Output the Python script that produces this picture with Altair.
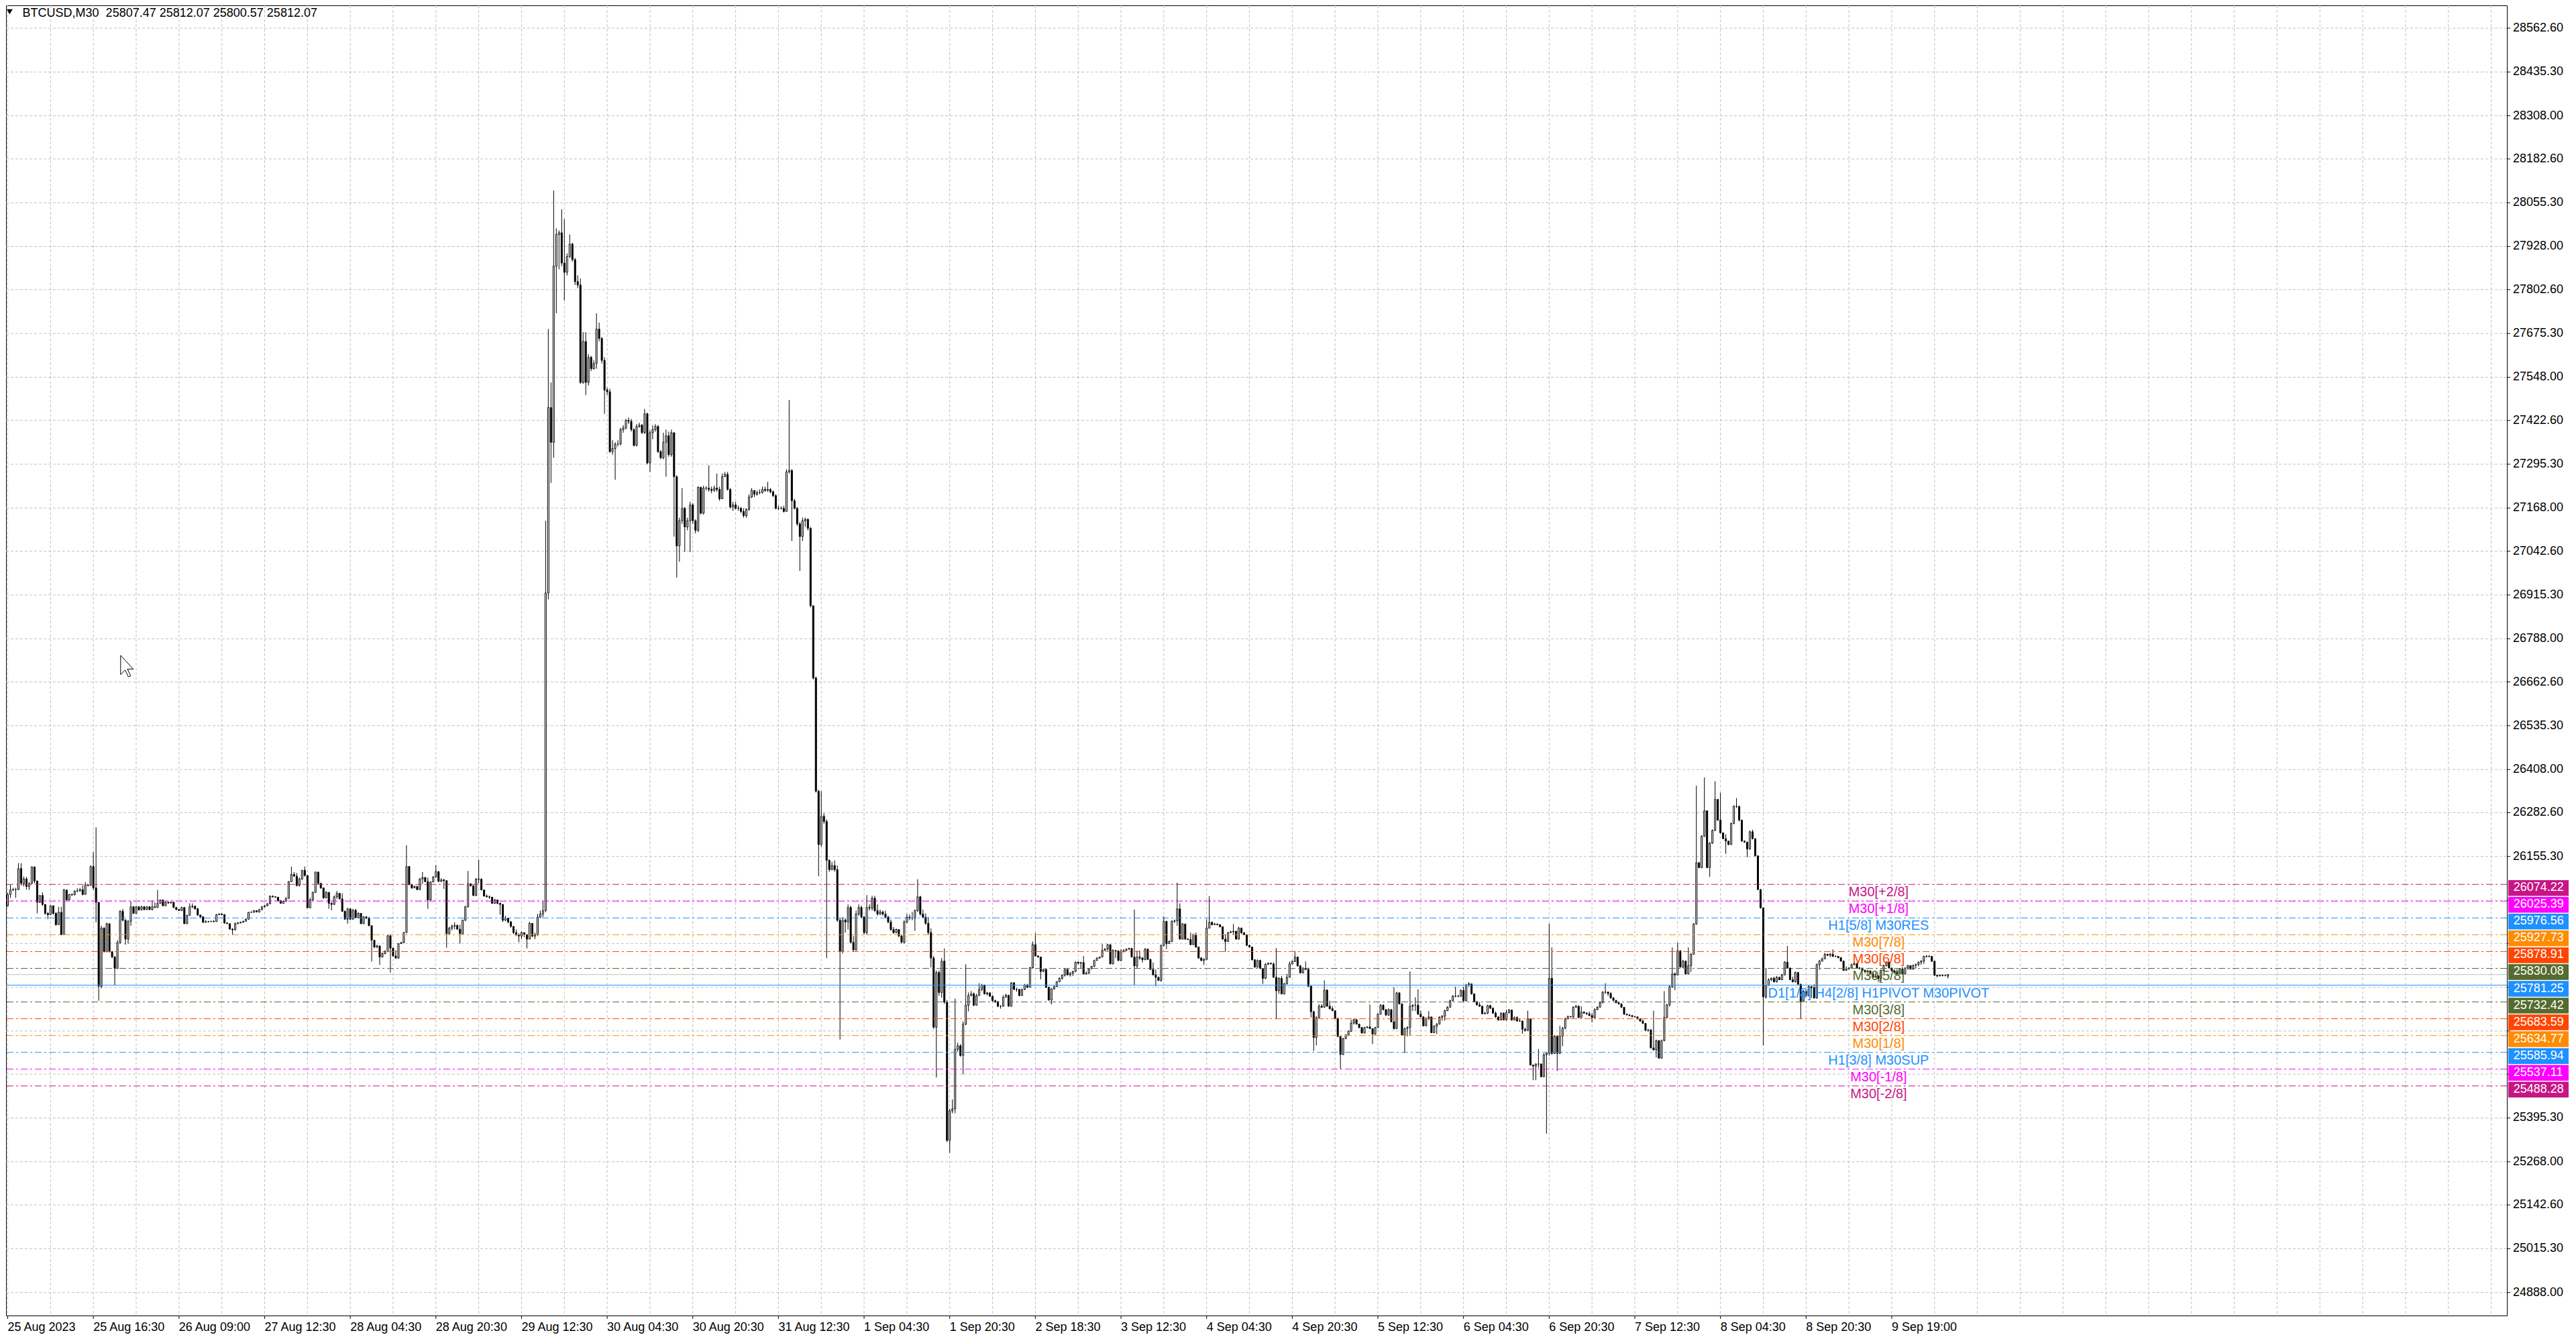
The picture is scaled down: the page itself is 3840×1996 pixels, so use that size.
import altair as alt
import pandas as pd

# ---------------- data ----------------
HEADER = "BTCUSD,M30\u00a0\u00a025807.47 25812.07 25800.57 25812.07"
FIRST_OPEN = 26012
LAST_OPEN = 25807.47

CLOSE_A = [26045,26058,26059,26059,26120,26077,26090,26068,26077,26125,
 26084,26022,26042,26016,25990,25986,26012,25990,25957,25993,
 25928,26058,26029,26045,26044,26055,26055,26059,26045,26072,
 26071,26126,26064,26022,25778,25947,25879,25960,25879,25863,
 25830,25905,25996,25970,25915,25967,26009,25990,26009,26000,
 26009,26001,26009,26001,26009,26007,26019,26029,26012,26022,
 26020,26022,26007,26001,25998,26007,25960,25984,26009,26011,
 26003,25985,25980,25964,25966,25966,25967,25966,25986,25988,
 25986,25962,25960,25944,25942,25960,25962,25964,25967,25973,
 25993,25993,25998,25994,26001,26009,26012,26018,26040,26038,
 26037,26027,26019,26025,26034,26082,26103,26098,26071,26090,
 26115,26100,26006,26029,26051,26110,26077,26064,26035,26051,
 26019,26016,26038,26048,26032,25996,25973,26003,25973,25999,
 25977,25990,25960,25980,25977,25954,25912,25892,25895,25863,
 25873,25879,25925,25889,25866,25860,25902,25905,25934,26126,
 26074,26064,26068,26059,26090,26094,26082,26029,26081,26096,
 26111,26083,26087,26085,25931,25947,25953,25955,25944,25931,
 25970,26009,26076,26070,26042,26090,26089,26058,26040,26038,
 26037,26019,26029,26019,26016]
HIGH_A = [26051,26074,26064,26064,26136,26136,26097,26096,26081,26126,
 26123,26085,26042,26051,26016,25993,26014,26012,25993,26009,
 26009,26061,26058,26046,26048,26057,26063,26064,26071,26081,
 26074,26130,26168,26240,26019,25954,25950,25963,25960,25879,
 25866,25912,25999,26003,25973,25970,26025,26011,26012,26011,
 26012,26011,26011,26011,26027,26022,26058,26030,26030,26025,
 26025,26025,26025,26009,26003,26009,26007,25986,26019,26019,
 26011,26006,25986,25980,25970,25968,25968,25970,25988,25990,
 25990,25988,25963,25954,25947,25964,25965,25966,25968,25975,
 25994,25996,25999,25999,26003,26011,26014,26019,26042,26042,
 26040,26037,26028,26027,26036,26084,26126,26110,26107,26094,
 26116,26126,26098,26035,26053,26111,26110,26079,26063,26055,
 26051,26022,26042,26055,26048,26048,25998,26006,26005,26003,
 26003,25993,25991,25981,25981,25980,25955,25912,25899,25897,
 25876,25883,25927,25918,25890,25883,25903,25907,25936,26188,
 26128,26076,26071,26070,26092,26110,26096,26094,26083,26098,
 26130,26113,26092,26090,26086,25951,25957,25964,25957,25957,
 25972,26012,26113,26077,26072,26092,26146,26092,26059,26045,
 26042,26037,26032,26030,26021]
LOW_A = [26009,26035,26055,26035,26058,26071,26068,26059,26058,26076,
 26077,25990,26020,26012,25986,25973,25990,25986,25954,25957,
 25928,25928,26027,26027,26040,26042,26051,26053,26042,26045,
 26068,26071,26058,25964,25736,25772,25876,25876,25876,25860,
 25782,25829,25902,25967,25899,25902,25954,25988,25988,25998,
 25998,25999,25999,25999,25999,26006,26007,26018,26011,26018,
 26018,26019,26006,25999,25997,25997,25959,25960,25983,26005,
 26001,25983,25977,25962,25963,25963,25965,25964,25966,25985,
 25984,25960,25959,25943,25928,25941,25959,25961,25963,25966,
 25972,25992,25992,25993,25992,25999,26007,26011,26016,26036,
 26035,26025,26018,26018,26024,26032,26081,26096,26068,26068,
 26087,26097,26005,26005,26027,26050,26074,26061,26032,26034,
 26003,25999,26014,26032,26031,25994,25972,25960,25970,25972,
 25975,25976,25959,25959,25973,25953,25850,25889,25889,25840,
 25862,25871,25877,25818,25864,25858,25858,25901,25903,25933,
 26071,26061,26063,26057,26057,26076,26081,26003,26027,26089,
 26093,26081,26081,26061,25890,25929,25941,25944,25942,25902,
 25929,25968,26007,26068,26040,26040,26077,26057,26039,26036,
 26032,26018,26018,26016,25986]

CLOSE_B = [25970,25976,25965,25952,25934,25928,25924,25934,25928,25915,
 25961,25924,25928,25979,25988,25998,26921,27460,27359,27871,
 27963,27968,27880,27853,27899,27935,27890,27826,27816,27533,
 27652,27533,27606,27573,27588,27688,27661,27597,27511,27506,
 27332,27341,27354,27354,27396,27401,27423,27420,27396,27350,
 27405,27409,27387,27442,27299,27387,27396,27405,27332,27314,
 27359,27378,27323,27387,27259,27058,27131,27167,27113,27131,
 27177,27131,27103,27228,27153,27226,27226,27222,27219,27226,
 27222,27195,27259,27266,27222,27171,27177,27167,27167,27158,
 27146,27164,27200,27219,27208,27213,27213,27222,27219,27222,
 27215,27204,27167,27167,27167,27158,27273,27277,27189,27167,
 27122,27085,27131,27135,27109,26884,26674,26345,26190,26272,
 26257,26144,26117,26129,26117,25970,25879,25970,25965,26007,
 25906,25884,25988,26007,25979,25934,26007,26005,26034,25998,
 25988,25994,25988,25979,25965,25943,25934,25943,25924,25906,
 25965,25979,25976,25976,25998,26038,25988,25979,25961,25934,
 25860,25659,25818,25760,25851,25732,25330,25416,25422,25595,
 25605,25577,25668,25723,25751,25756,25723,25751,25769]
HIGH_B = [26016,25983,25976,25968,25952,25943,25932,25937,25934,25928,
 25965,25961,25934,25988,25998,26025,27131,27688,27533,28091,
 27981,27975,28036,28008,27908,27963,27939,27895,27844,27835,
 27679,27679,27615,27610,27597,27734,27707,27665,27606,27518,
 27515,27365,27359,27365,27401,27409,27427,27431,27427,27400,
 27412,27416,27412,27456,27445,27394,27409,27412,27409,27336,
 27387,27396,27390,27396,27387,27263,27140,27226,27171,27140,
 27186,27182,27135,27231,27230,27233,27231,27292,27230,27233,
 27268,27230,27268,27273,27273,27226,27186,27186,27175,27171,
 27167,27167,27208,27226,27219,27219,27222,27230,27230,27244,
 27226,27219,27208,27175,27173,27175,27281,27482,27281,27195,
 27171,27127,27140,27140,27138,27113,26884,26678,26349,26345,
 26281,26263,26147,26140,26144,26129,25976,25979,25976,26016,
 26012,25924,25998,26016,26012,25983,26043,26016,26041,26041,
 26016,26001,25998,25998,25983,25972,25950,25946,25943,25928,
 25970,25988,25987,25994,26001,26089,26041,26001,25990,25979,
 25946,25866,25824,25824,25860,25888,25738,25422,25449,25742,
 25614,25610,25676,25842,25760,25764,25760,25756,25787]
LOW_B = [25965,25968,25961,25948,25930,25924,25906,25915,25921,25888,
 25915,25921,25915,25924,25976,25979,25994,26902,27241,27314,
 27734,27862,27871,27771,27844,27895,27884,27816,27807,27529,
 27529,27496,27524,27566,27570,27573,27652,27588,27442,27496,
 27328,27323,27250,27347,27350,27387,27396,27412,27390,27347,
 27347,27401,27383,27383,27295,27273,27368,27390,27328,27310,
 27310,27259,27317,27317,27085,26966,27012,27122,27040,27103,
 27040,27122,27094,27098,27149,27149,27219,27215,27211,27215,
 27215,27189,27195,27259,27219,27167,27160,27164,27160,27153,
 27140,27140,27160,27197,27200,27204,27208,27210,27215,27215,
 27211,27200,27164,27162,27164,27155,27171,27268,27072,27164,
 27116,26985,27072,27113,27103,26879,26670,26341,26098,26184,
 26250,25860,26111,26115,26111,25965,25623,25873,25934,25943,
 25902,25879,25881,25983,25976,25928,25928,25998,25998,25994,
 25983,25985,25983,25976,25961,25939,25930,25932,25921,25902,
 25902,25961,25970,25970,25939,25994,25983,25976,25957,25928,
 25833,25654,25513,25751,25745,25727,25325,25294,25409,25409,
 25588,25573,25522,25665,25705,25749,25720,25742,25753]

CLOSE_C = [25782,25756,25759,25749,25736,25733,25720,25720,25746,25752,
 25720,25788,25769,25769,25751,25769,25782,25775,25832,25899,
 25866,25863,25821,25827,25775,25738,25771,25777,25791,25801,
 25810,25827,25811,25816,25821,25848,25845,25847,25814,25816,
 25829,25836,25853,25860,25863,25882,25886,25899,25843,25882,
 25881,25853,25879,25882,25886,25888,25863,25837,25863,25860,
 25855,25886,25856,25827,25811,25804,25795,25897,25967,25902,
 25908,25967,25968,26003,25915,25959,25915,25914,25899,25928,
 25892,25860,25853,25856,25947,25964,25957,25959,25957,25951,
 25915,25908,25934,25936,25938,25915,25947,25933,25928,25897,
 25892,25855,25834,25853,25830,25801,25842,25845,25843,25804,
 25765,25801,25756,25785,25804,25843,25850,25863,25837,25817,
 25830,25827,25778,25704,25629,25687,25720,25717,25767,25720,
 25713,25707,25684,25632,25580,25626,25636,25647,25671,25681,
 25668,25658,25642,25658,25660,25655,25639,25658,25697,25723,
 25710,25694,25710,25675,25655,25759,25727,25636,25655,25658,
 25720,25723,25723,25697,25689,25663,25684,25689,25643,25662,
 25668,25688,25691,25707,25717,25736,25749,25749,25749,25766,
 25736,25782,25785,25756,25733]
HIGH_C = [25785,25782,25762,25760,25752,25739,25736,25723,25752,25756,
 25752,25790,25790,25773,25769,25771,25785,25785,25834,25908,
 25933,25868,25864,25829,25829,25777,25772,25780,25793,25804,
 25812,25829,25828,25819,25823,25850,25850,25849,25866,25821,
 25831,25837,25855,25862,25864,25901,25889,25901,25900,25886,
 25884,25882,25886,25886,25888,25890,25889,26001,25882,25882,
 25863,25889,25887,25858,25847,25827,25806,25899,25981,25967,
 25912,25970,25972,26079,26019,25962,25959,25918,25934,25931,
 25934,25893,25863,25860,25973,26040,25966,25962,25960,25958,
 25952,25929,25936,25940,25959,25939,25951,25949,25936,25929,
 25899,25893,25856,25856,25855,25830,25845,25847,25847,25847,
 25889,25804,25808,25788,25814,25850,25853,25881,25864,25840,
 25834,25850,25832,25780,25707,25691,25726,25726,25795,25769,
 25736,25720,25706,25687,25634,25628,25639,25650,25681,25684,
 25683,25669,25660,25660,25662,25725,25656,25660,25700,25726,
 25726,25712,25714,25712,25775,25762,25760,25728,25658,25662,
 25821,25726,25746,25769,25707,25691,25688,25706,25689,25665,
 25671,25691,25694,25710,25720,25739,25753,25777,25753,25769,
 25777,25785,25790,25785,25757]
LOW_C = [25764,25754,25751,25747,25734,25730,25717,25713,25719,25745,
 25719,25719,25767,25762,25749,25751,25767,25773,25775,25830,
 25864,25862,25798,25819,25773,25736,25725,25767,25776,25790,
 25797,25806,25810,25806,25808,25819,25842,25830,25812,25812,
 25814,25828,25834,25852,25858,25862,25881,25881,25842,25842,
 25860,25851,25851,25876,25881,25884,25862,25782,25830,25855,
 25847,25855,25855,25825,25810,25778,25793,25791,25894,25886,
 25902,25907,25962,25954,25914,25914,25914,25912,25897,25899,
 25890,25858,25851,25840,25855,25946,25955,25957,25955,25949,
 25914,25879,25907,25933,25927,25914,25914,25931,25927,25895,
 25890,25853,25832,25832,25828,25785,25799,25840,25842,25803,
 25684,25756,25754,25754,25784,25803,25842,25849,25836,25816,
 25816,25825,25777,25687,25590,25606,25686,25715,25717,25719,
 25710,25706,25682,25630,25538,25578,25624,25634,25646,25667,
 25667,25656,25641,25641,25656,25654,25610,25637,25657,25696,
 25708,25693,25693,25673,25652,25654,25725,25634,25584,25632,
 25634,25706,25706,25695,25688,25662,25662,25680,25642,25642,
 25639,25667,25678,25678,25706,25716,25735,25746,25746,25747,
 25734,25734,25777,25754,25732]

CLOSE_D = [25724,25720,25698,25700,25722,25714,25700,25689,25680,25700,
 25680,25702,25709,25680,25687,25677,25677,25653,25650,25683,
 25549,25546,25552,25552,25515,25579,25583,25801,25583,25633,
 25583,25633,25656,25683,25690,25689,25717,25720,25687,25703,
 25700,25698,25693,25687,25710,25717,25730,25761,25761,25757,
 25744,25737,25730,25727,25717,25697,25695,25693,25690,25689,
 25683,25677,25670,25650,25651,25599,25593,25620,25569,25620,
 25687,25724,25777,25814,25811,25881,25834,25851,25814,25838,
 25871,25959,26137,26123,26214,26288,26123,26194,26231,26321,
 26261,26224,26207,26200,26190,26251,26301,26301,26261,26200,
 26197,26177,26227,26207,26157,26059,26006,25747,25781,25797,
 25801,25791,25804,25797,25811,25848,25831,25797,25791,25818,
 25784,25734,25764,25750,25777,25774,25744,25841,25851,25858,
 25871,25868,25871,25865,25865,25861,25851,25824,25828,25831,
 25841,25844,25831,25831,25824,25821,25823,25814,25804,25808,
 25801,25824,25838,25848,25831,25823,25818,25814,25828,25814,
 25831,25838,25828,25839,25841,25848,25851,25865,25866,25865,
 25851,25810,25808,25810,25809,25809,25812.07]
HIGH_D = [25736,25732,25722,25703,25724,25724,25717,25705,25690,25702,
 25702,25710,25712,25710,25690,25691,25683,25678,25658,25707,
 25685,25550,25554,25596,25554,25583,25586,25960,25891,25636,
 25633,25663,25660,25687,25693,25691,25720,25724,25722,25720,
 25705,25702,25705,25700,25714,25720,25734,25764,25787,25763,
 25761,25747,25738,25732,25725,25716,25698,25695,25693,25691,
 25690,25685,25681,25671,25654,25654,25707,25623,25622,25623,
 25764,25727,25781,25891,25818,25905,25883,25855,25853,25891,
 25875,25962,26361,26140,26217,26385,26289,26197,26234,26374,
 26322,26341,26225,26220,26197,26254,26304,26325,26302,26262,
 26202,26198,26231,26233,26208,26158,26061,26006,25831,25801,
 25804,25806,25808,25806,25814,25851,25895,25832,25806,25821,
 25820,25785,25767,25765,25781,25779,25784,25844,25855,25861,
 25875,25873,25875,25885,25868,25866,25863,25853,25836,25834,
 25844,25848,25846,25834,25831,25827,25826,25822,25821,25818,
 25810,25828,25841,25851,25848,25832,25828,25828,25831,25834,
 25833,25840,25839,25841,25844,25850,25854,25867,25868,25867,
 25865,25826,25811,25812,25812,25812,25812.07]
LOW_D = [25722,25718,25697,25697,25697,25712,25698,25687,25678,25679,
 25679,25679,25698,25678,25679,25675,25675,25640,25646,25648,
 25548,25505,25505,25541,25514,25514,25350,25577,25579,25581,
 25532,25581,25604,25653,25682,25687,25685,25716,25685,25687,
 25698,25695,25691,25673,25685,25709,25716,25729,25756,25750,
 25742,25736,25729,25725,25715,25695,25693,25691,25688,25687,
 25682,25675,25669,25648,25646,25597,25591,25571,25568,25568,
 25618,25685,25719,25773,25767,25810,25832,25831,25812,25813,
 25820,25870,25957,26121,26121,26212,26121,26096,26192,26229,
 26259,26222,26206,26163,26188,26189,26249,26296,26257,26198,
 26195,26153,26175,26205,26155,26058,26004,25606,25742,25779,
 25793,25789,25789,25796,25796,25810,25830,25796,25789,25789,
 25783,25683,25732,25749,25749,25744,25742,25742,25826,25850,
 25857,25866,25863,25863,25863,25859,25850,25823,25823,25828,
 25830,25839,25830,25826,25823,25819,25811,25812,25803,25806,
 25791,25793,25823,25836,25830,25821,25816,25812,25813,25812,
 25813,25826,25826,25826,25830,25836,25840,25843,25861,25862,
 25848,25808,25804,25807,25807,25807,25800.57]

X_LABELS = ["25 Aug 2023", "25 Aug 16:30", "26 Aug 09:00", "27 Aug 12:30",
            "28 Aug 04:30", "28 Aug 20:30", "29 Aug 12:30", "30 Aug 04:30",
            "30 Aug 20:30", "31 Aug 12:30", "1 Sep 04:30", "1 Sep 20:30",
            "2 Sep 18:30", "3 Sep 12:30", "4 Sep 04:30", "4 Sep 20:30",
            "5 Sep 12:30", "6 Sep 04:30", "6 Sep 20:30", "7 Sep 12:30",
            "8 Sep 04:30", "8 Sep 20:30", "9 Sep 19:00"]
BARS_PER_LABEL = 32
BARS_PER_GRID = 16

Y_TICKS = [28562.60, 28435.30, 28308.00, 28182.60, 28055.30, 27928.00,
           27802.60, 27675.30, 27548.00, 27422.60, 27295.30, 27168.00,
           27042.60, 26915.30, 26788.00, 26662.60, 26535.30, 26408.00,
           26282.60, 26155.30, 26028.00, 25902.60, 25775.30, 25648.00,
           25522.60, 25395.30, 25268.00, 25142.60, 25015.30, 24888.00]

LEVELS = [26074.22, 26025.39, 25976.56, 25927.73, 25878.91, 25830.08, 25781.25,
          25732.42, 25683.59, 25634.77, 25585.94, 25537.11, 25488.28]
LEVEL_NAMES = ["M30[+2/8]", "M30[+1/8]", "H1[5/8] M30RES", "M30[7/8]", "M30[6/8]",
               "M30[5/8]", "D1[1/8] H4[2/8] H1PIVOT M30PIVOT", "M30[3/8]", "M30[2/8]",
               "M30[1/8]", "H1[3/8] M30SUP", "M30[-1/8]", "M30[-2/8]"]
LEVEL_COLORS = ["#C71585", "#FF00FF", "#1E90FF", "#FF8C00", "#FF4500", "#556B2F",
                "#1E90FF", "#556B2F", "#FF4500", "#FF8C00", "#1E90FF", "#FF00FF", "#C71585"]
LEVEL_SOLID = [False, False, False, False, False, False, True,
               False, False, False, False, False, False]
LEVEL_LABEL_BAR = 699.1
BID = 25812.07

# ---------------- build tables ----------------
CLOSE = CLOSE_A + CLOSE_B + CLOSE_C + CLOSE_D
HIGH = HIGH_A + HIGH_B + HIGH_C + HIGH_D
LOW = LOW_A + LOW_B + LOW_C + LOW_D
n = min(len(CLOSE), len(HIGH), len(LOW))
rows = []
prev = FIRST_OPEN
for i in range(n):
    o = LAST_OPEN if i == n - 1 else prev
    c = CLOSE[i]
    rows.append(dict(i=i, o=o, c=c, h=max(HIGH[i], o, c), l=min(LOW[i], o, c), up=bool(c >= o)))
    prev = c
candles = pd.DataFrame(rows)

levels = pd.DataFrame({"p": LEVELS, "name": LEVEL_NAMES, "color": LEVEL_COLORS,
                       "solid": LEVEL_SOLID, "lx": [LEVEL_LABEL_BAR] * len(LEVELS)})
xlab = pd.DataFrame({"i": [k * BARS_PER_LABEL for k in range(len(X_LABELS))], "label": X_LABELS})
ylab = pd.DataFrame({"p": Y_TICKS})
# price labels that sit under the coloured level boxes are hidden by them
box_lo, box_hi = min(LEVELS) - 40, max(LEVELS) + 15
ylab_vis = ylab[(ylab["p"] < box_lo) | (ylab["p"] > box_hi)]

# ---------------- geometry ----------------
W, H = 3728, 1953
XDOM = [0.625, 932.625]
YDOM = [24821.1, 28628.9]
FONT = "Liberation Sans"
xs = alt.Scale(domain=XDOM, nice=False, zero=False)
ys = alt.Scale(domain=YDOM, nice=False, zero=False)


def X(f):
    return alt.X(f, scale=xs, axis=None)


def Y(f):
    return alt.Y(f, scale=ys, axis=None)


GRID = "#C0C0C0"
vgrid = alt.Chart(pd.DataFrame({"i": list(range(0, int(XDOM[1]) + 1, BARS_PER_GRID))})).mark_rule(
    color=GRID, strokeDash=[4, 3], strokeWidth=1, clip=True).encode(x=X("i:Q"))

hgrid = alt.Chart(ylab).mark_rule(
    color=GRID, strokeDash=[4, 3], strokeWidth=1, clip=True).encode(y=Y("p:Q"))

bid = alt.Chart(pd.DataFrame({"p": [BID]})).mark_rule(color=GRID, strokeWidth=1).encode(y=Y("p:Q"))

wick = alt.Chart(candles).mark_rule(color="black", strokeWidth=1, clip=True).encode(
    x=X("i:Q"), y=Y("l:Q"), y2="h:Q")

body = alt.Chart(candles).mark_bar(size=2, stroke="black", strokeWidth=1, clip=True).encode(
    x=X("i:Q"), y=Y("o:Q"), y2="c:Q",
    fill=alt.condition("datum.up", alt.value("white"), alt.value("black")))

dash_lines = alt.Chart(levels).transform_filter("!datum.solid").mark_rule(
    strokeDash=[10, 4, 3, 4], strokeWidth=1).encode(
    y=Y("p:Q"), color=alt.Color("color:N", scale=None))

solid_lines = alt.Chart(levels).transform_filter("datum.solid").mark_rule(strokeWidth=1).encode(
    y=Y("p:Q"), color=alt.Color("color:N", scale=None))

level_text = alt.Chart(levels).mark_text(font=FONT, fontSize=20, align="center",
                                         baseline="middle", dy=12).encode(
    x=X("lx:Q"), y=Y("p:Q"), text="name:N", color=alt.Color("color:N", scale=None))

# right price axis
y_ticks = alt.Chart(ylab).mark_rule(color="black", strokeWidth=1).encode(
    x=alt.value(W), x2=alt.value(W + 5), y=Y("p:Q"))
y_labels = alt.Chart(ylab_vis).mark_text(font=FONT, fontSize=18, align="left", baseline="middle",
                                         color="black").encode(
    x=alt.value(W + 9), y=Y("p:Q"), text=alt.Text("p:Q", format=".2f"))

boxes = alt.Chart(levels).transform_calculate(lo="datum.p - 33.5", hi="datum.p + 12.3").mark_rect().encode(
    x=alt.value(W + 2), x2=alt.value(W + 92), y=Y("lo:Q"), y2="hi:Q",
    color=alt.Color("color:N", scale=None))

box_text = alt.Chart(levels).mark_text(font=FONT, fontSize=18, align="left", baseline="middle",
                                       dy=5, color="white").encode(
    x=alt.value(W + 9.7), y=Y("p:Q"), text=alt.Text("p:Q", format=".2f"))

# bottom time axis
x_ticks = alt.Chart(xlab).mark_rule(color="black", strokeWidth=1).encode(
    x=X("i:Q"), y=alt.value(H), y2=alt.value(H + 5))
x_labels = alt.Chart(xlab).mark_text(font=FONT, fontSize=18, align="left", baseline="alphabetic",
                                     color="black").encode(
    x=X("i:Q"), y=alt.value(H + 23), text="label:N")

header = alt.Chart(pd.DataFrame({"t": [HEADER]})).mark_text(
    font=FONT, fontSize=18, align="left", baseline="alphabetic", color="black").encode(
    x=alt.value(24.6), y=alt.value(17), text="t:N")

tri = alt.Chart(pd.DataFrame({"t": [0]})).mark_point(
    shape="triangle-down", filled=True, color="black", size=80, opacity=1).encode(
    x=alt.value(5.4), y=alt.value(9.5))

CURSOR = "M-0.594,-1L-0.594,0.788L-0.169,0.363L0.131,1L0.344,0.913L0.044,0.275L0.594,0.275Z"
cursor = alt.Chart(pd.DataFrame({"t": [0]})).mark_point(
    shape=CURSOR, filled=True, fill="white", stroke="black", strokeWidth=1, size=1024, opacity=1).encode(
    x=alt.value(180.3), y=alt.value(985))

chart = alt.layer(
    vgrid, hgrid, bid, wick, body, dash_lines, solid_lines, level_text,
    y_ticks, y_labels, boxes, box_text, x_ticks, x_labels, header, tri, cursor
).properties(width=W, height=H, padding=0, background="white").configure(
    font=FONT
).configure_view(stroke="black", strokeWidth=1)

chart.save("out.html", embed_options={"renderer": "svg", "actions": False})
